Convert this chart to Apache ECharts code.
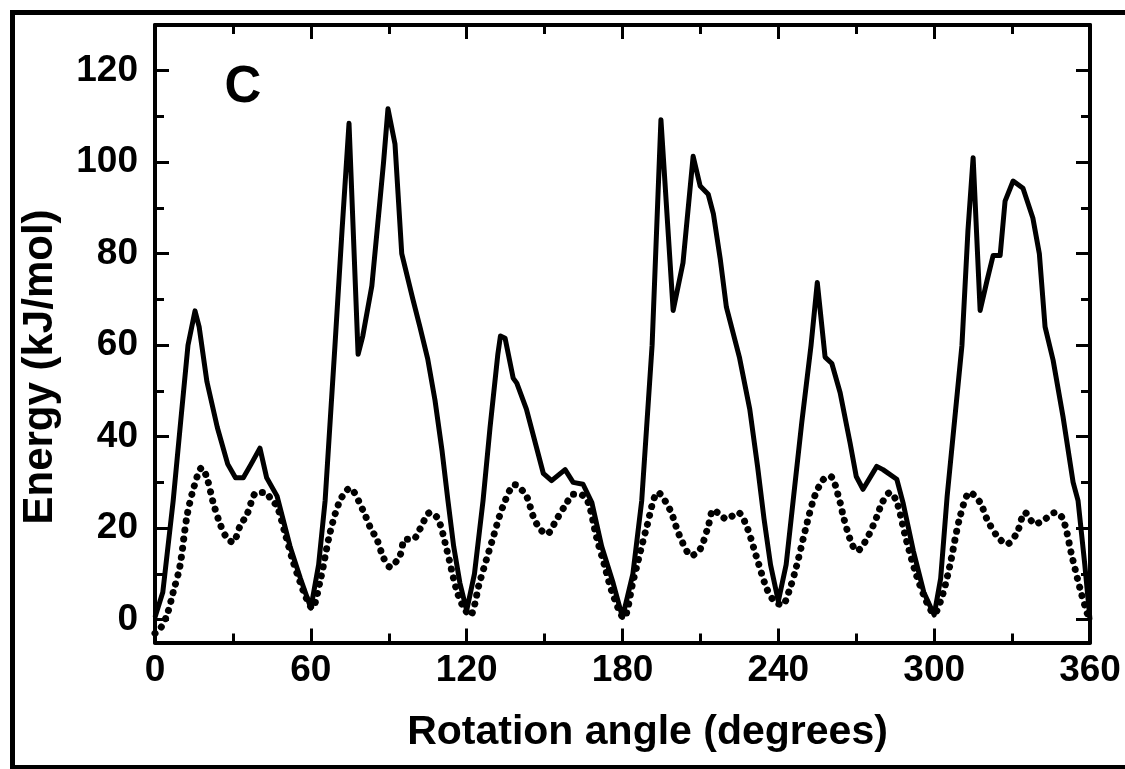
<!DOCTYPE html>
<html>
<head>
<meta charset="utf-8">
<script src="https://cdn.jsdelivr.net/npm/echarts@6/dist/echarts.min.js"></script>
<style>
html, body { margin: 0; padding: 0; background: #fff; }
#main { width: 1125px; height: 769px; }
</style>
</head>
<body>
<div id="main"></div>
<script>
// solid curve (full energy)
var solidAngle = [0, 3, 7, 10, 12.7, 15.4, 17, 20, 24, 28, 31, 34, 37, 40.4, 43, 47, 52, 56, 60,
  63, 65.5, 69.3, 72, 74.7, 78.2, 80, 83.5, 86.6, 88, 89.7, 92.4, 95, 99.3, 102, 105, 107.8, 110.5, 112.8, 115, 117.4, 120,
  123, 126.3, 129, 132, 133, 134.8, 137.9, 139.3, 143, 149.5, 152.7, 157.9, 161, 164.8, 168.2, 172, 176.4, 180,
  184, 187.4, 191.4, 194.8, 199.5, 203.3, 207.2, 209.9, 213, 215, 217.6, 220, 225, 229, 232, 234.5, 237, 240,
  243, 245.7, 249, 252.6, 255, 258, 260.6, 263.8, 267.6, 270, 272.6, 277.9, 280.3, 285.6, 288, 292, 296, 300,
  302.5, 305, 310.7, 313, 315, 317.7, 320.3, 322.7, 325.4, 327.3, 330.4, 334.2, 338, 340.5, 342.7, 345.8, 349.6, 353.5, 355.4, 358, 360];
var solidEnergy = [0.5, 6, 26, 44, 60, 67.5, 64, 52, 42, 34, 31, 31, 34, 37.5, 31, 27, 16, 9, 2.5,
  12, 26, 60, 85, 108.5, 58, 62, 73, 91.5, 100, 111.7, 104, 80, 70, 64, 57, 48, 37, 26, 16, 8, 2,
  10, 26, 42, 58, 62, 61.5, 52.8, 51.7, 46, 32, 30.4, 32.8, 30, 29.6, 25.6, 16, 8, 0.5,
  10, 26, 60, 109.3, 67.6, 78, 101.3, 94.8, 93, 88.7, 79, 68.3, 57.4, 46, 33.5, 22, 12, 4,
  12, 26, 43, 60, 73.7, 57.4, 56, 49.6, 38.7, 31.3, 28.5, 33.5, 32.8, 30.7, 25.6, 15, 6, 1,
  9, 27, 60, 85, 101, 67.6, 74, 79.6, 79.6, 91.5, 95.9, 94.3, 87.8, 80, 64, 56.7, 44.4, 30, 26, 12, 0];

// dotted curve
var dottedAngle = [0, 2, 4.6, 7, 9.6, 12.3, 15, 18, 20, 22.4, 25, 27.5, 30, 32.7, 35.4, 39.2, 42.4, 45, 47, 50, 53, 56, 58, 60.5,
  63.5, 67.4, 71.2, 75, 80, 83, 85.4, 88, 90.5, 94.3, 96.3, 99.4, 102, 105.9, 109, 112.3, 116, 118.5, 121.3,
  125, 130, 134, 138.6, 143, 145.6, 148, 150.8, 154.7, 158.6, 161, 163.7, 166.8, 170, 173, 176, 180.5,
  184, 189.4, 193.7, 198.3, 202, 206.6, 209.9, 213, 215, 217.5, 220, 224.5, 227.8, 231.8, 235.6, 238.5, 241.5,
  244, 247, 251, 254, 257.3, 260, 263.8, 265, 268, 270.3, 274, 278, 280, 283, 285.7, 289, 293, 297, 300,
  303, 306, 310, 313.8, 317.7, 320.3, 324.2, 328, 331.9, 335, 338.9, 342.7, 346.5, 349.6, 353, 356.2, 359.2, 360];
var dottedEnergy = [-3, -2, 1, 6, 11.7, 22.6, 29, 33.2, 31, 25.6, 21, 18, 16.9, 20.4, 23, 27.8, 27.8, 26, 24.8, 19, 13, 8, 5, 2.5,
  8.2, 19, 26, 28.7, 24, 20, 17.6, 13.5, 11.5, 14, 17.6, 17.6, 19.8, 23.4, 22, 15.4, 6.7, 3, 0.9,
  8.2, 17.6, 24.8, 29.5, 27, 22.6, 20, 18.7, 22, 25.6, 27.4, 27.4, 25.6, 18, 12, 6, 0.4,
  8.2, 20.4, 27.8, 24, 18.3, 14, 15.4, 20.4, 24, 23, 22, 23.4, 20.4, 13.3, 6.7, 4, 3.2,
  6, 11.7, 21, 27, 30.6, 31.3, 25.6, 22.6, 17, 15, 17.6, 22.6, 25.6, 27.8, 25.6, 18, 10, 4, 1.3,
  5, 11.7, 22.6, 27.8, 25.6, 22, 18.3, 16.5, 19, 23.4, 20.9, 22, 23.4, 22, 14, 6.7, 0.9, 0];

var yMajor = [0, 20, 40, 60, 80, 100, 120];
var yMinor = [10, 30, 50, 70, 90, 110];

function pairs(xs, ys) {
  return xs.map(function (x, i) { return [x, ys[i]]; });
}

var FONT = "'Liberation Sans', Arial, Helvetica, sans-serif";
var myChart = echarts.init(document.getElementById('main'), null, { renderer: 'canvas' });

function xAx(pos, showLabel) {
  return {
    type: 'value', position: pos, min: 0, max: 360, interval: 60,
    axisLine: { show: true, onZero: false, lineStyle: { color: '#000', width: 4 } },
    axisTick: { show: true, inside: true, length: 14, lineStyle: { color: '#000', width: 3 } },
    minorTick: { show: true, splitNumber: 2, length: 9, lineStyle: { color: '#000', width: 3 } },
    axisLabel: { show: showLabel, margin: 10, color: '#000', fontSize: 37, fontWeight: 'bold', fontFamily: FONT },
    splitLine: { show: false }
  };
}
function yAx(pos, ticks, len, main) {
  return {
    type: 'value', position: pos, min: -5, max: 130,
    axisLine: { show: main, onZero: false, lineStyle: { color: '#000', width: 4 } },
    axisTick: { show: true, inside: true, length: len, customValues: ticks, lineStyle: { color: '#000', width: 3 } },
    axisLabel: { show: main && pos === 'left', customValues: ticks, margin: 17, color: '#000', fontSize: 37, fontWeight: 'bold', fontFamily: FONT },
    splitLine: { show: false }
  };
}

var option = {
  animation: false,
  backgroundColor: '#fff',
  grid: { left: 155, right: 35, top: 25, bottom: 126.5, outerBoundsMode: 'none' },
  xAxis: [
    Object.assign(xAx('bottom', true), {
      name: 'Rotation angle (degrees)', nameLocation: 'middle', nameGap: 70,
      nameTextStyle: { color: '#000', fontSize: 41, fontWeight: 'bold', fontFamily: FONT, padding: [0, 0, 0, 50] }
    }),
    xAx('top', false)
  ],
  yAxis: [
    yAx('left', yMajor, 14, true),
    yAx('left', yMinor, 9, false),
    yAx('right', yMajor, 14, true),
    yAx('right', yMinor, 9, false)
  ],
  graphic: [
    { type: 'rect', shape: { x: 12.5, y: 12.5, width: 1200, height: 755 }, style: { fill: 'none', stroke: '#000', lineWidth: 5 }, silent: true },
    { type: 'text', x: 40, y: 367, rotation: Math.PI / 2,
      style: { text: 'Energy (kJ/mol)', font: 'bold 42px ' + FONT, fill: '#000', textAlign: 'center', textVerticalAlign: 'middle' } },
    { type: 'text', x: 243, y: 88,
      style: { text: 'C', font: 'bold 51px ' + FONT, fill: '#000', textAlign: 'center', textVerticalAlign: 'middle' } }
  ],
  series: [
    {
      name: 'solid', type: 'line', xAxisIndex: 0, yAxisIndex: 0,
      data: pairs(solidAngle, solidEnergy),
      showSymbol: false, symbol: 'none', clip: true,
      lineStyle: { color: '#000', width: 5, join: 'round' }
    },
    {
      name: 'dotted', type: 'line', xAxisIndex: 0, yAxisIndex: 0,
      data: pairs(dottedAngle, dottedEnergy),
      showSymbol: false, symbol: 'none', smooth: 0.3, clip: true,
      lineStyle: { color: '#000', width: 7, type: [0.1, 9], cap: 'round' }
    }
  ]
};
myChart.setOption(option);
</script>
</body>
</html>
